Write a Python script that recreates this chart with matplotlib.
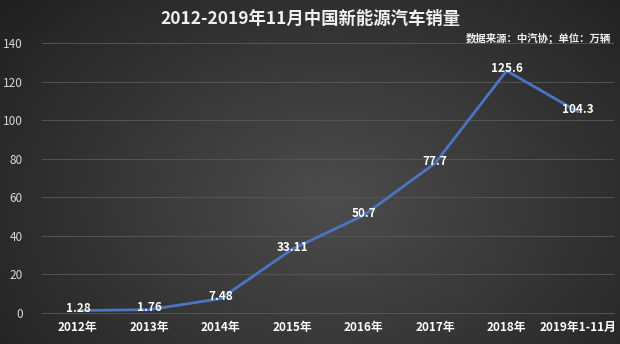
import numpy as np
import matplotlib
matplotlib.use("Agg")
from matplotlib import pyplot as plt

plt.rcParams["font.family"] = ["Noto Sans CJK SC", "DejaVu Sans"]

# Données
categories = ["2012年", "2013年", "2014年", "2015年", "2016年", "2017年", "2018年", "2019年1-11月"]
sales = [1.28, 1.76, 7.48, 33.11, 50.7, 77.7, 125.6, 104.3]
sales_labels = ["1.28", "1.76", "7.48", "33.11", "50.7", "77.7", "125.6", "104.3"]
y_ticks = [0, 20, 40, 60, 80, 100, 120, 140]

fig = plt.figure(figsize=(6.2, 3.44), dpi=100)

# Fond: dégradé radial gris foncé
bg = fig.add_axes([0, 0, 1, 1], zorder=0)
yy, xx = np.mgrid[0:344, 0:620]
r = np.sqrt(((xx - 330) / 420.0) ** 2 + ((yy - 200) / 300.0) ** 2)
shade = np.clip(0.30 - 0.17 * r, 0.13, 0.30)
bg.imshow(np.dstack([shade, shade, shade]), aspect="auto", extent=[0, 1, 0, 1])
bg.axis("off")

ax = fig.add_axes([0.068, 0.09, 0.922, 0.785], zorder=1)
ax.patch.set_alpha(0)
x = np.arange(len(categories))
ax.plot(x, sales, color="#4d74c4", lw=2, solid_capstyle="round")
for xi, v, lab in zip(x, sales, sales_labels):
    ax.text(xi, v + 1, lab, color="white", fontsize=8.5, fontweight="bold",
            ha="center", va="center")

ax.set_xlim(-0.5, len(categories) - 0.5)
ax.set_ylim(0, 140)
ax.set_yticks(y_ticks)
ax.set_xticks(x)
ax.set_xticklabels(categories, color="white", fontsize=8.5, fontweight="bold")
ax.tick_params(axis="y", colors="#d8d8d8", labelsize=8.5, length=0, pad=14)
ax.tick_params(axis="x", length=0, pad=6)
ax.grid(axis="y", color="#555555", lw=0.7)
ax.set_axisbelow(True)
for s in ax.spines.values():
    s.set_visible(False)
ax.spines["bottom"].set_visible(True)
ax.spines["bottom"].set_color("#555555")
ax.spines["bottom"].set_linewidth(0.7)

fig.text(0.5, 0.945, "2012-2019年11月中国新能源汽车销量", color="#f0f0f0",
         fontsize=12.5, fontweight="bold", ha="center", va="center")
fig.text(0.985, 0.888, "数据来源：中汽协；单位：万辆", color="#f0f0f0",
         fontsize=7.5, fontweight="bold", ha="right", va="center")

fig.savefig("out.png", dpi=100)
print("Done!")
